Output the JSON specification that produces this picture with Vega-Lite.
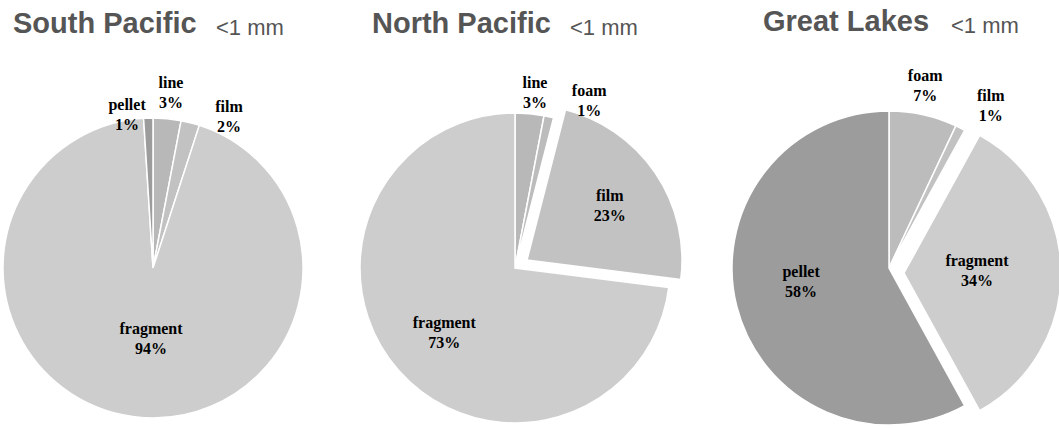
{
  "$schema": "https://vega.github.io/schema/vega-lite/v6.json",
  "padding": {"left": 0, "top": 7, "right": 0, "bottom": 0},
  "background": "white",
  "spacing": 0,
  "config": {
    "view": {"stroke": null},
    "title": {
      "anchor": "start",
      "frame": "group",
      "font": "Liberation Sans",
      "fontSize": 29,
      "fontWeight": "bold",
      "color": "#555555"
    },
    "text": {"font": "Liberation Serif", "fontWeight": "bold", "fontSize": 16, "lineBreak": "\n", "lineHeight": 20, "color": "black", "dy": -10}
  },
  "hconcat": [
    {
      "spacing": 0,
      "title": {"text": "South Pacific", "dx": 9, "offset": -22},
      "hconcat": [
        {
          "width": 298,
          "height": 300,
          "title": {"text": "<1 mm", "dx": 212, "fontSize": 22, "fontWeight": "normal", "offset": 35},
          "data": {"values": [
            {"type": "line", "pct": 3, "i": 1},
            {"type": "film", "pct": 2, "i": 2},
            {"type": "fragment", "pct": 94, "i": 3},
            {"type": "pellet", "pct": 1, "i": 4}
          ]},
          "transform": [
            {"window": [{"op": "sum", "field": "pct", "as": "cum"}], "sort": [{"field": "i"}]},
            {"calculate": "datum.type + '\\n' + datum.pct + '%'", "as": "label"}
          ],
          "layer": [
            {"mark": {"type": "arc", "outerRadius": 150, "stroke": "white", "strokeWidth": 1.5},
             "encoding": {
               "theta": {"field": "pct", "type": "quantitative", "stack": true},
               "order": {"field": "i", "type": "quantitative"},
               "color": {"field": "type", "type": "nominal", "legend": null,
               "scale": {"domain": ["fragment", "film", "line", "foam", "pellet"], "range": ["#cdcdcd", "#c2c2c2", "#b8b8b8", "#bcbcbc", "#9c9c9c"]}}}},
            {"transform": [{"filter": "datum.type == 'pellet'"}],
             "mark": {"type": "text", "radius": 155, "thetaOffset": -0.168},
             "encoding": {"theta": {"field": "cum", "type": "quantitative"}, "text": {"field": "label"}}},
            {"transform": [{"filter": "datum.type == 'line'"}],
             "mark": {"type": "text", "radius": 176, "thetaOffset": -0.086},
             "encoding": {"theta": {"field": "cum", "type": "quantitative"}, "text": {"field": "label"}}},
            {"transform": [{"filter": "datum.type == 'film'"}],
             "mark": {"type": "text", "radius": 169, "thetaOffset": 0.152},
             "encoding": {"theta": {"field": "cum", "type": "quantitative"}, "text": {"field": "label"}}},
            {"transform": [{"filter": "datum.type == 'fragment'"}],
             "mark": {"type": "text", "radius": 71, "thetaOffset": -3.051},
             "encoding": {"theta": {"field": "cum", "type": "quantitative"}, "text": {"field": "label"}}}
          ]
        }
      ]
    },
    {
      "spacing": 0,
      "title": {"text": "North Pacific", "dx": 66, "offset": -22},
      "hconcat": [
        {
          "width": 418,
          "height": 300,
          "title": {"text": "<1 mm", "dx": 264, "fontSize": 22, "fontWeight": "normal", "offset": 35},
          "data": {"values": [
            {"type": "line", "pct": 3, "i": 1},
            {"type": "foam", "pct": 1, "i": 2},
            {"type": "film", "pct": 23, "i": 3},
            {"type": "fragment", "pct": 73, "i": 4}
          ]},
          "transform": [
            {"window": [{"op": "sum", "field": "pct", "as": "cum"}], "sort": [{"field": "i"}]},
            {"calculate": "datum.type + '\\n' + datum.pct + '%'", "as": "label"}
          ],
          "layer": [
            {"mark": {"type": "arc", "outerRadius": 155, "stroke": "white", "strokeWidth": 1.5},
             "encoding": {
               "theta": {"field": "pct", "type": "quantitative", "stack": true},
               "order": {"field": "i", "type": "quantitative"},
               "color": {"field": "type", "type": "nominal", "legend": null,
               "scale": {"domain": ["fragment", "film", "line", "foam", "pellet"], "range": ["#cdcdcd", "#c2c2c2", "#b8b8b8", "#bcbcbc", "#9c9c9c"]}},
               "opacity": {"condition": {"test": "datum.type == 'film'", "value": 0}, "value": 1}}},
            {"mark": {"type": "arc", "outerRadius": 155, "stroke": "white", "strokeWidth": 1.5, "xOffset": 12, "yOffset": -8},
             "encoding": {
               "theta": {"field": "pct", "type": "quantitative", "stack": true},
               "order": {"field": "i", "type": "quantitative"},
               "color": {"field": "type", "type": "nominal", "legend": null,
               "scale": {"domain": ["fragment", "film", "line", "foam", "pellet"], "range": ["#cdcdcd", "#c2c2c2", "#b8b8b8", "#bcbcbc", "#9c9c9c"]}},
               "opacity": {"condition": {"test": "datum.type == 'film'", "value": 1}, "value": 0}}},
            {"transform": [{"filter": "datum.type == 'line'"}],
             "mark": {"type": "text", "radius": 176, "thetaOffset": -0.075},
             "encoding": {"theta": {"field": "cum", "type": "quantitative"}, "text": {"field": "label"}}},
            {"transform": [{"filter": "datum.type == 'foam'"}],
             "mark": {"type": "text", "radius": 183, "thetaOffset": 0.166},
             "encoding": {"theta": {"field": "cum", "type": "quantitative"}, "text": {"field": "label"}}},
            {"transform": [{"filter": "datum.type == 'film'"}],
             "mark": {"type": "text", "radius": 113, "thetaOffset": -0.703},
             "encoding": {"theta": {"field": "cum", "type": "quantitative"}, "text": {"field": "label"}}},
            {"transform": [{"filter": "datum.type == 'fragment'"}],
             "mark": {"type": "text", "radius": 96, "thetaOffset": -2.313},
             "encoding": {"theta": {"field": "cum", "type": "quantitative"}, "text": {"field": "label"}}}
          ]
        }
      ]
    },
    {
      "spacing": 0,
      "title": {"text": "Great Lakes", "dx": 39, "offset": -22},
      "hconcat": [
        {
          "width": 330,
          "height": 300,
          "title": {"text": "<1 mm", "dx": 227, "fontSize": 22, "fontWeight": "normal", "offset": 30},
          "data": {"values": [
            {"type": "foam", "pct": 7, "i": 1},
            {"type": "film", "pct": 1, "i": 2},
            {"type": "fragment", "pct": 34, "i": 3},
            {"type": "pellet", "pct": 58, "i": 4}
          ]},
          "transform": [
            {"window": [{"op": "sum", "field": "pct", "as": "cum"}], "sort": [{"field": "i"}]},
            {"calculate": "datum.type + '\\n' + datum.pct + '%'", "as": "label"}
          ],
          "layer": [
            {"mark": {"type": "arc", "outerRadius": 157, "stroke": "white", "strokeWidth": 1.5},
             "encoding": {
               "theta": {"field": "pct", "type": "quantitative", "stack": true},
               "order": {"field": "i", "type": "quantitative"},
               "color": {"field": "type", "type": "nominal", "legend": null,
               "scale": {"domain": ["fragment", "film", "line", "foam", "pellet"], "range": ["#cdcdcd", "#c2c2c2", "#b8b8b8", "#bcbcbc", "#9c9c9c"]}},
               "opacity": {"condition": {"test": "datum.type == 'fragment'", "value": 0}, "value": 1}}},
            {"mark": {"type": "arc", "outerRadius": 157, "stroke": "white", "strokeWidth": 1.5, "xOffset": 15, "yOffset": 5},
             "encoding": {
               "theta": {"field": "pct", "type": "quantitative", "stack": true},
               "order": {"field": "i", "type": "quantitative"},
               "color": {"field": "type", "type": "nominal", "legend": null,
               "scale": {"domain": ["fragment", "film", "line", "foam", "pellet"], "range": ["#cdcdcd", "#c2c2c2", "#b8b8b8", "#bcbcbc", "#9c9c9c"]}},
               "opacity": {"condition": {"test": "datum.type == 'fragment'", "value": 1}, "value": 0}}},
            {"transform": [{"filter": "datum.type == 'foam'"}],
             "mark": {"type": "text", "radius": 186, "thetaOffset": -0.244},
             "encoding": {"theta": {"field": "cum", "type": "quantitative"}, "text": {"field": "label"}}},
            {"transform": [{"filter": "datum.type == 'film'"}],
             "mark": {"type": "text", "radius": 191, "thetaOffset": 0.059},
             "encoding": {"theta": {"field": "cum", "type": "quantitative"}, "text": {"field": "label"}}},
            {"transform": [{"filter": "datum.type == 'fragment'"}],
             "mark": {"type": "text", "radius": 88, "thetaOffset": -1.033},
             "encoding": {"theta": {"field": "cum", "type": "quantitative"}, "text": {"field": "label"}}},
            {"transform": [{"filter": "datum.type == 'pellet'"}],
             "mark": {"type": "text", "radius": 89, "thetaOffset": -1.728},
             "encoding": {"theta": {"field": "cum", "type": "quantitative"}, "text": {"field": "label"}}}
          ]
        }
      ]
    }
  ]
}
